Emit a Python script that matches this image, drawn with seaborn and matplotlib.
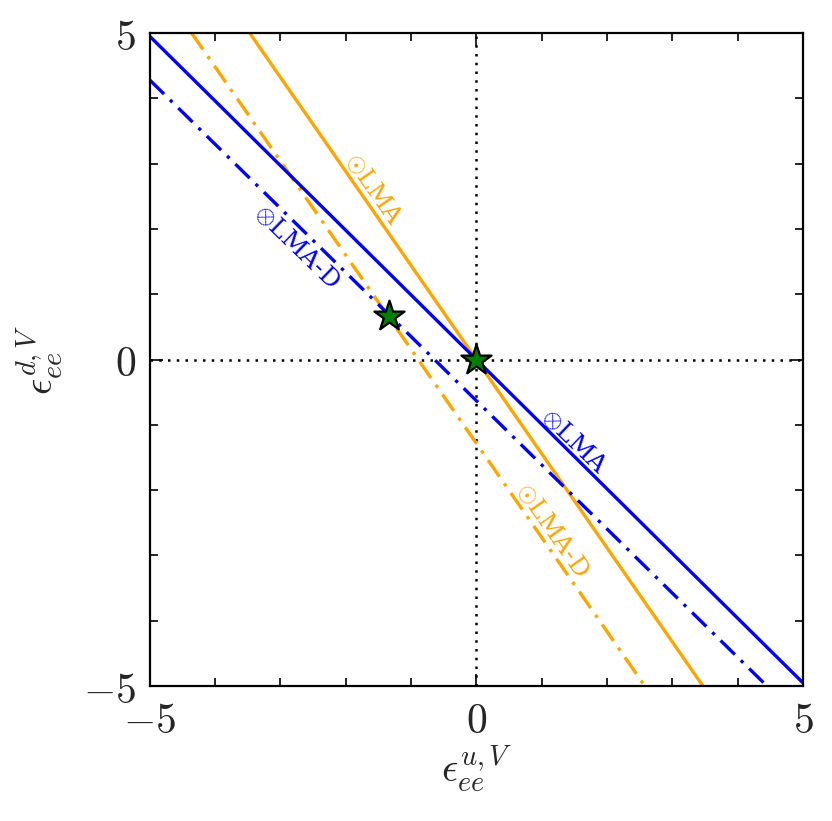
import numpy as np
import pandas as pd
import seaborn as sns
import matplotlib.pyplot as plt
from matplotlib.ticker import MultipleLocator

sns.set_style("white")
plt.rcParams['mathtext.fontset'] = 'cm'
plt.rcParams['font.family'] = ['DejaVu Serif']

# line end points
lma_o_x = [-3.47, 3.47]
lma_o_y = [5.0, -5.0]
lmad_o_x = [-4.36, 2.58]
lmad_o_y = [5.0, -5.0]
lma_b_x = [-5.0, 5.0]
lma_b_y = [4.95, -4.95]
lmad_b_x = [-5.0, 4.45]
lmad_b_y = [4.28, -5.0]

# best fit points
star_x = [0.0, -1.33]
star_y = [0.0, 0.67]

orange = '#FFA500'
blue = '#0000FF'

fig = plt.figure(figsize=(8.32, 8.21), dpi=100)
ax = fig.add_axes([0.180, 0.1644, 0.785, 0.7954])

ax.axhline(0, color='k', ls=(0, (1, 2.5)), lw=1.8, zorder=1)
ax.axvline(0, color='k', ls=(0, (1, 2.5)), lw=1.8, zorder=1)

dashdot = (0, (6, 2.5, 1, 2.5))
sns.lineplot(x=lma_o_x, y=lma_o_y, color=orange, lw=2.4, ax=ax)
sns.lineplot(x=lmad_o_x, y=lmad_o_y, color=orange, lw=2.4, ls=dashdot, ax=ax)
sns.lineplot(x=lma_b_x, y=lma_b_y, color=blue, lw=2.4, ax=ax)
sns.lineplot(x=lmad_b_x, y=lmad_b_y, color=blue, lw=2.4, ls=dashdot, ax=ax)

sns.scatterplot(x=star_x, y=star_y, marker='*', s=520, color='green',
                edgecolor='black', linewidth=1.6, zorder=5, ax=ax)

fs = 18
ax.text(-1.58, 2.6, r'$\odot$LMA', color=orange, fontsize=fs, rotation=-55,
        ha='center', va='center')
ax.text(-2.75, 1.72, r'$\otimes$LMA-D', color=blue, fontsize=fs, rotation=-44,
        ha='center', va='center')
ax.text(1.16, -2.61, r'$\odot$LMA-D', color=orange, fontsize=fs, rotation=-55,
        ha='center', va='center')
ax.text(1.49, -1.26, r'$\otimes$LMA', color=blue, fontsize=fs, rotation=-44,
        ha='center', va='center')

ax.set_xlim(-5, 5)
ax.set_ylim(-5, 5)
ax.set_xticks([-5, 0, 5])
ax.set_yticks([-5, 0, 5])
ax.set_xticklabels([r'$-5$', r'$0$', r'$5$'])
ax.set_yticklabels([r'$-5$', r'$0$', r'$5$'])
ax.xaxis.set_minor_locator(MultipleLocator(1))
ax.yaxis.set_minor_locator(MultipleLocator(1))
ax.tick_params(which='both', direction='in', top=True, right=True,
               bottom=True, left=True,
               labelsize=30, width=1.2, color='k', pad=10)
ax.tick_params(which='major', length=9)
ax.tick_params(which='minor', length=6)
for sp in ax.spines.values():
    sp.set_color('k')
    sp.set_linewidth(1.6)

ax.set_xlabel(r'$\epsilon_{ee}^{u,V}$', fontsize=29, labelpad=2)
ax.set_ylabel(r'$\epsilon_{ee}^{d,V}$', fontsize=29, labelpad=12)

fig.savefig('out.png', dpi=100)
